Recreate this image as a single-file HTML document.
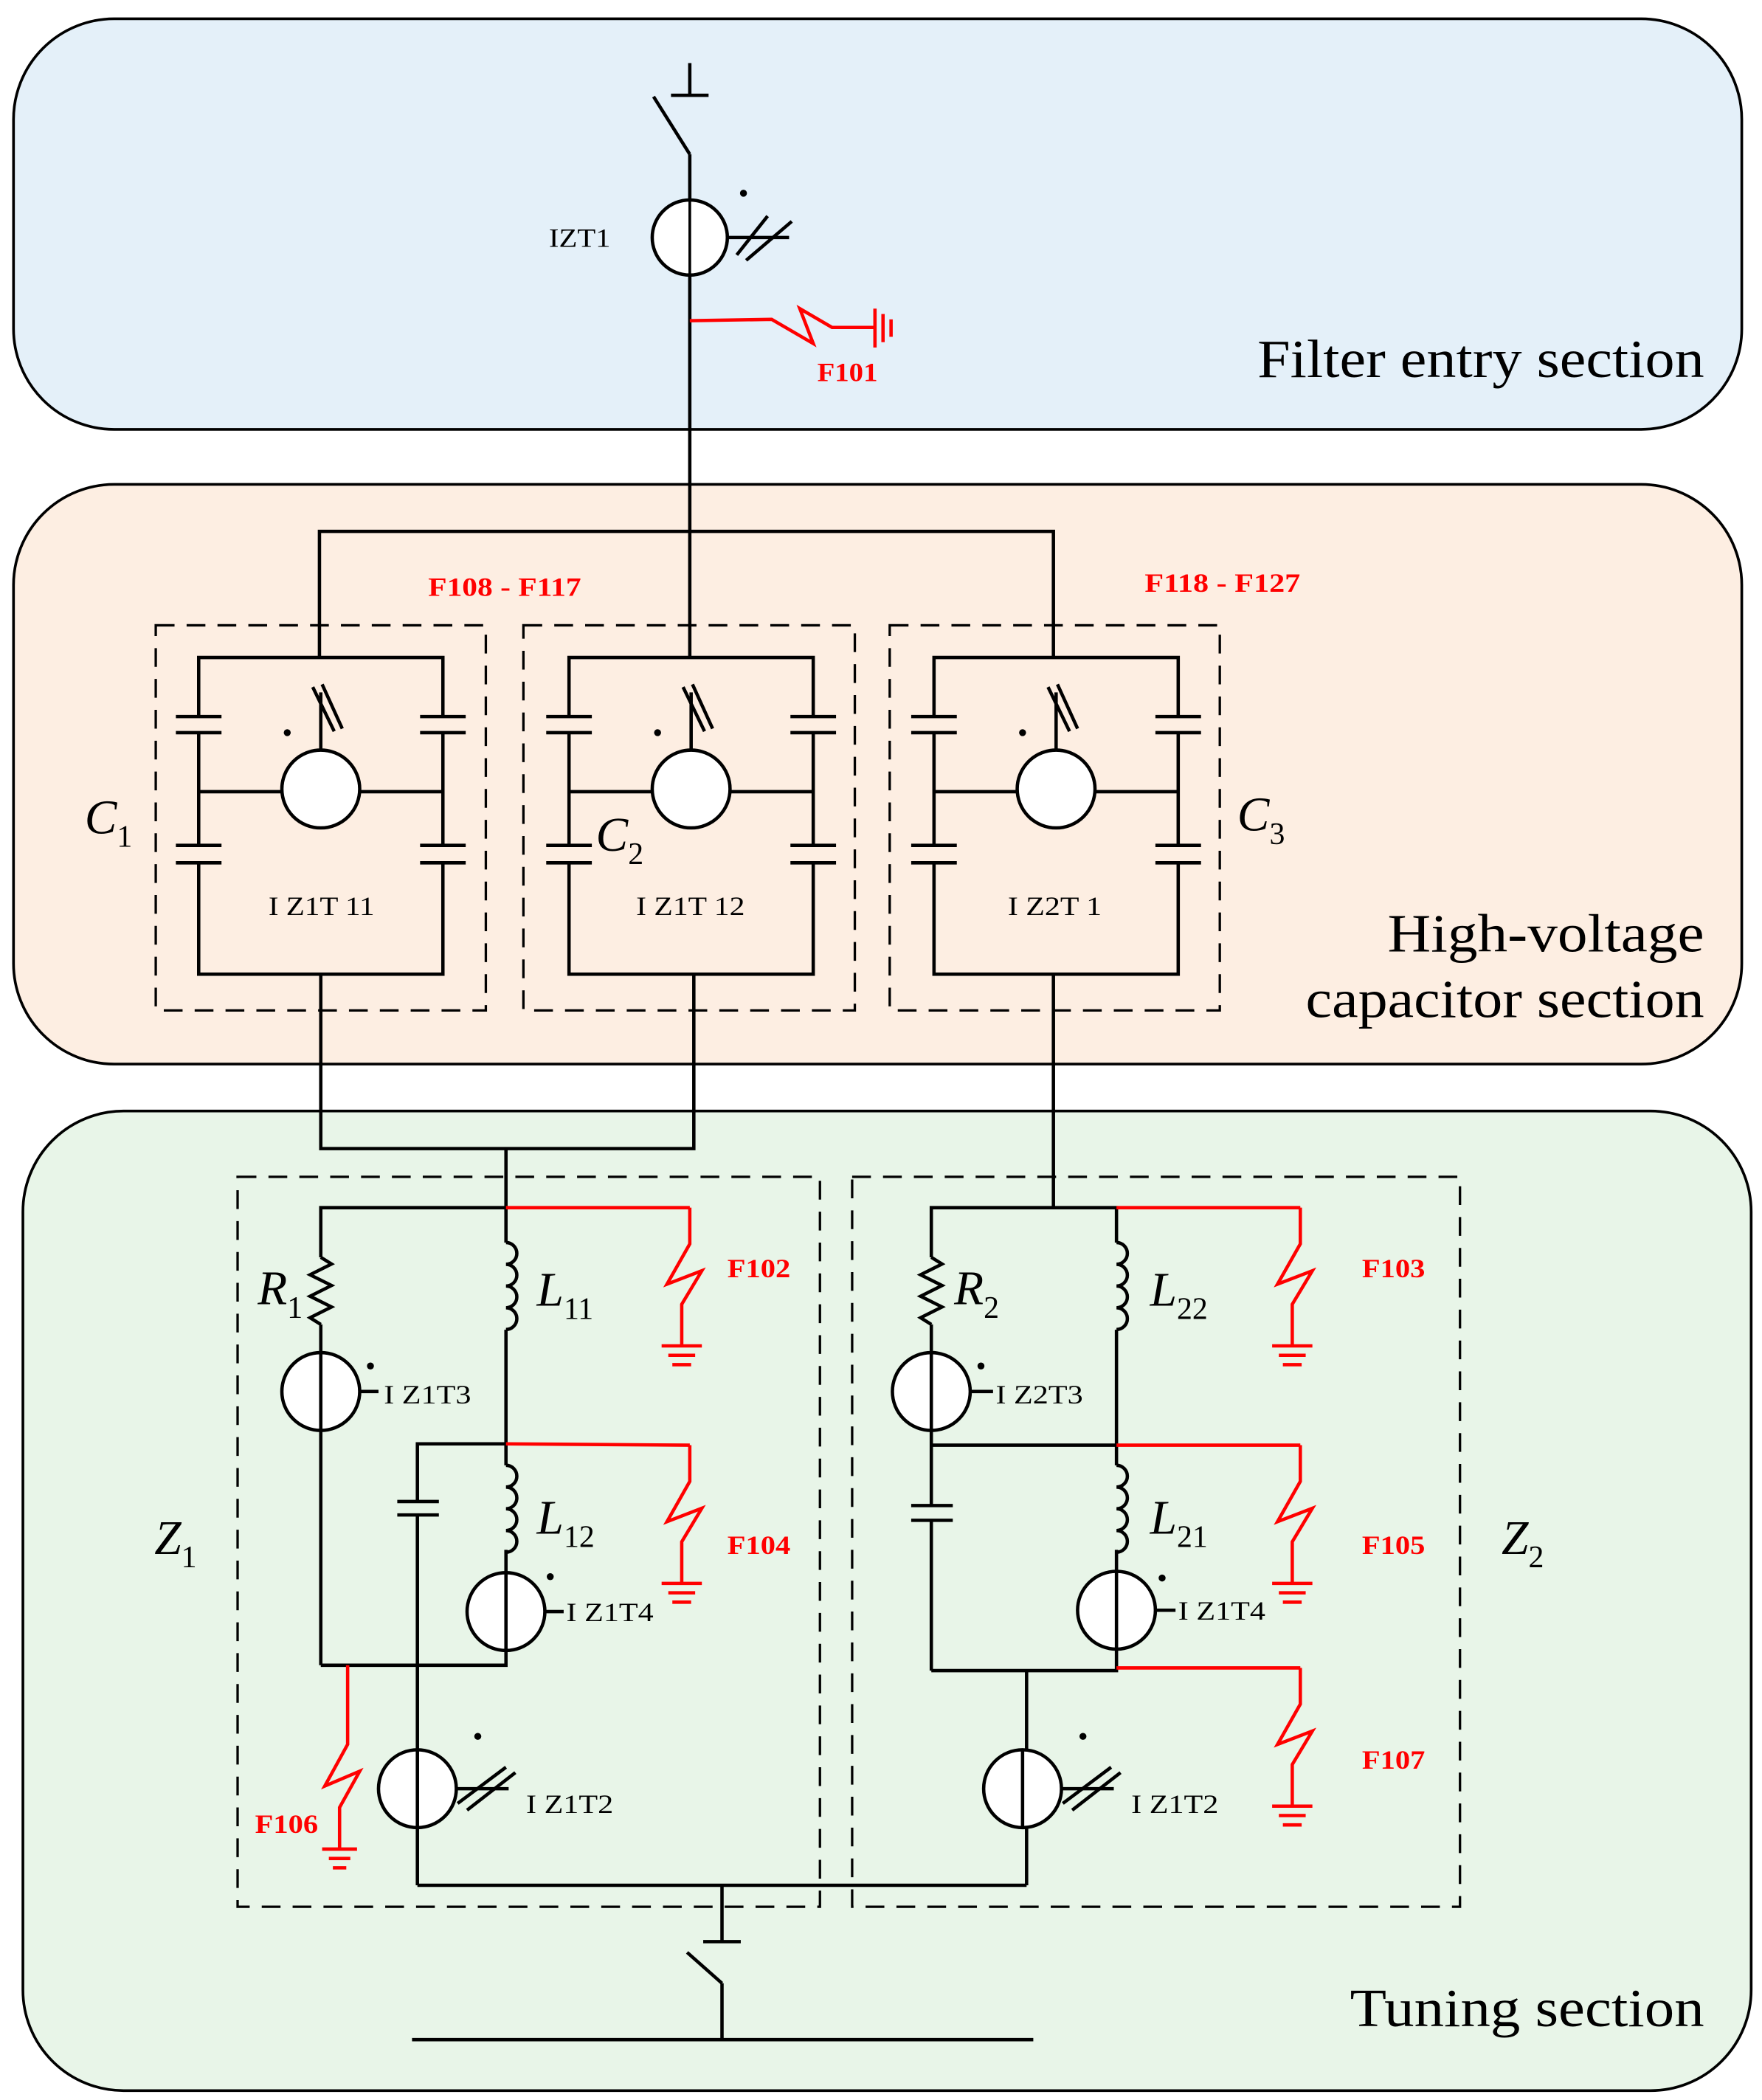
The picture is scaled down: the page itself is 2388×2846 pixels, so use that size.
<!DOCTYPE html>
<html><head><meta charset="utf-8"><style>
html,body{margin:0;padding:0;background:#fff;}
svg{display:block;}
text{font-family:"Liberation Serif",serif;}
</style></head><body>
<svg width="2388" height="2846" viewBox="0 0 1313 1565" xmlns="http://www.w3.org/2000/svg">
<defs>
<path id="coil" d="M0,0 a8.1,8.1 0 0 1 0,16.2 a8.1,8.1 0 0 1 0,16.2 a8.1,8.1 0 0 1 0,16.2 a8.1,8.1 0 0 1 0,16.2" fill="none" stroke="#000" stroke-width="2.5"/>
<path id="res" d="M0,0 l8,5 l-16,8 l16,8 l-16,8 l16,8 l-16,8 l8,5" fill="none" stroke="#000" stroke-width="2.5"/>
<g id="fault" fill="none" stroke="#f00" stroke-width="2.5">
<polyline points="0,0 0,27 -17,57 9,47 -6,72 -6,103"/>
<line x1="-21" y1="103" x2="9" y2="103"/><line x1="-16" y1="110" x2="4" y2="110"/><line x1="-13" y1="117" x2="1" y2="117"/>
</g>
<g id="ctb">
<circle cx="0" cy="0" r="29" fill="#fff" stroke="#000" stroke-width="2.5"/>
<g stroke="#000" stroke-width="2.5"><line x1="29" y1="0" x2="68" y2="0"/><line x1="30" y1="11" x2="66" y2="-16"/><line x1="37" y1="16" x2="73" y2="-12"/></g>
<circle cx="45" cy="-39" r="2.6" fill="#000"/>
</g>
<g id="capbox">
<g fill="none" stroke="#000" stroke-width="2.5">
<polyline points="0,44 0,0 182,0 182,44"/>
<polyline points="0,140 0,56"/><polyline points="182,140 182,56"/>
<polyline points="0,153 0,236 182,236 182,153"/>
<line x1="-17" y1="44" x2="17" y2="44"/><line x1="-17" y1="56" x2="17" y2="56"/>
<line x1="165" y1="44" x2="199" y2="44"/><line x1="165" y1="56" x2="199" y2="56"/>
<line x1="-17" y1="140" x2="17" y2="140"/><line x1="-17" y1="153" x2="17" y2="153"/>
<line x1="165" y1="140" x2="199" y2="140"/><line x1="165" y1="153" x2="199" y2="153"/>
<line x1="0" y1="100" x2="62" y2="100"/><line x1="120" y1="100" x2="182" y2="100"/>
<line x1="91" y1="26" x2="91" y2="70"/>
<line x1="85" y1="22" x2="101" y2="55"/><line x1="92" y1="20" x2="107" y2="53"/>
</g>
<circle cx="91" cy="98" r="29" fill="#fff" stroke="#000" stroke-width="2.5"/>
<circle cx="66" cy="56" r="2.6" fill="#000"/>
</g>
</defs>

<!-- panels -->
<rect x="10" y="14" width="1288" height="306" rx="75" fill="#e4f0f9" stroke="#000" stroke-width="2"/>
<rect x="10" y="361" width="1288" height="432" rx="75" fill="#fdeee2" stroke="#000" stroke-width="2"/>
<rect x="17" y="828" width="1288" height="730" rx="75" fill="#e8f5e8" stroke="#000" stroke-width="2"/>

<g font-size="40" fill="#000" lengthAdjust="spacingAndGlyphs">
<text x="937" y="281" textLength="333" lengthAdjust="spacingAndGlyphs">Filter entry section</text>
<text x="1034" y="709" textLength="236" lengthAdjust="spacingAndGlyphs">High-voltage</text>
<text x="973" y="758" textLength="297" lengthAdjust="spacingAndGlyphs">capacitor section</text>
<text x="1006" y="1510" textLength="264" lengthAdjust="spacingAndGlyphs">Tuning section</text>
</g>

<!-- top section -->
<g stroke="#000" stroke-width="2.5" fill="none">
<line x1="514" y1="47" x2="514" y2="70"/><line x1="500" y1="71" x2="528" y2="71"/>
<line x1="487" y1="72" x2="514" y2="115"/>
<line x1="514" y1="115" x2="514" y2="396"/>
</g>
<circle cx="514" cy="177" r="28" fill="#fff" stroke="#000" stroke-width="2.5"/>
<line x1="514" y1="148" x2="514" y2="206" stroke="#000" stroke-width="2"/>
<g stroke="#000" stroke-width="2.5"><line x1="542" y1="177" x2="588" y2="177"/><line x1="549" y1="190" x2="572" y2="161"/><line x1="556" y1="194" x2="590" y2="165"/></g>
<circle cx="554" cy="144" r="2.6" fill="#000"/>
<text x="409" y="184" font-size="20" textLength="46" lengthAdjust="spacingAndGlyphs">IZT1</text>
<g stroke="#f00" stroke-width="2.5" fill="none">
<polyline points="514,239 575,238 606,256 596,230 620,244 652,244"/>
<line x1="652" y1="230" x2="652" y2="259"/><line x1="658" y1="234" x2="658" y2="255"/><line x1="664" y1="238" x2="664" y2="251"/>
</g>
<text x="609" y="284" font-size="20" font-weight="bold" fill="#f00" textLength="45" lengthAdjust="spacingAndGlyphs">F101</text>

<!-- HV section -->
<g stroke="#000" stroke-width="2.5" fill="none">
<polyline points="238,490 238,396 785,396 785,490"/>
<line x1="514" y1="396" x2="514" y2="490"/>
<polyline points="239,726 239,856 517,856 517,726"/>
<line x1="377" y1="856" x2="377" y2="900"/>
<line x1="785" y1="726" x2="785" y2="900"/>
</g>
<g stroke="#000" stroke-width="1.8" fill="none" stroke-dasharray="14,9">
<rect x="116" y="466" width="246" height="287"/>
<rect x="390" y="466" width="247" height="287"/>
<rect x="663" y="466" width="246" height="287"/>
</g>
<use href="#capbox" x="148" y="490"/>
<use href="#capbox" x="424" y="490"/>
<use href="#capbox" x="696" y="490"/>
<g font-size="20"><text x="200" y="682" textLength="79" lengthAdjust="spacingAndGlyphs">I Z1T 11</text><text x="474" y="682" textLength="81" lengthAdjust="spacingAndGlyphs">I Z1T 12</text><text x="751" y="682" textLength="70" lengthAdjust="spacingAndGlyphs">I Z2T 1</text></g>
<g font-size="20" font-weight="bold" fill="#f00"><text x="319" y="444" textLength="114" lengthAdjust="spacingAndGlyphs">F108 - F117</text><text x="853" y="441" textLength="116" lengthAdjust="spacingAndGlyphs">F118 - F127</text></g>
<g font-size="36" font-style="italic">
<text x="63" y="621">C<tspan font-size="23" font-style="normal" dy="10">1</tspan></text>
<text x="444" y="634">C<tspan font-size="23" font-style="normal" dy="10">2</tspan></text>
<text x="922" y="619">C<tspan font-size="23" font-style="normal" dy="10">3</tspan></text>
</g>

<!-- tuning section boxes -->
<g stroke="#000" stroke-width="1.8" fill="none" stroke-dasharray="14,9">
<rect x="177" y="877" width="434" height="544"/>
<rect x="635" y="877" width="453" height="544"/>
</g>

<!-- Z1 -->
<g stroke="#000" stroke-width="2.5" fill="none">
<polyline points="239,937 239,900 377,900 377,926"/>
<line x1="239" y1="987" x2="239" y2="1241"/>
<polyline points="239,1241 377,1241 377,1155"/>
<line x1="377" y1="991" x2="377" y2="1092"/>
<polyline points="377,1076 311,1076 311,1119"/>
<line x1="296" y1="1119" x2="327" y2="1119"/><line x1="296" y1="1129" x2="327" y2="1129"/>
<line x1="311" y1="1129" x2="311" y2="1405"/>
<polyline points="311,1405 765,1405"/>
<line x1="538" y1="1405" x2="538" y2="1447"/><line x1="524" y1="1447" x2="552" y2="1447"/>
<line x1="512" y1="1455" x2="538" y2="1478"/><line x1="538" y1="1478" x2="538" y2="1520"/>
<line x1="307" y1="1520" x2="770" y2="1520"/>
</g>
<use href="#res" x="239" y="937"/>
<use href="#coil" x="377" y="926"/>
<use href="#coil" x="377" y="1092"/>
<g fill="#fff" stroke="#000" stroke-width="2.5">
<circle cx="239" cy="1037" r="29"/><circle cx="377" cy="1201" r="29"/>
</g>
<g stroke="#000" stroke-width="2.5">
<line x1="239" y1="1008" x2="239" y2="1066"/><line x1="268" y1="1037" x2="282" y2="1037"/>
<line x1="377" y1="1172" x2="377" y2="1230"/><line x1="406" y1="1201" x2="420" y2="1201"/>
</g>
<circle cx="276" cy="1018" r="2.6" fill="#000"/><circle cx="410" cy="1175" r="2.6" fill="#000"/>
<use href="#ctb" x="311" y="1333"/>
<line x1="311" y1="1304" x2="311" y2="1362" stroke="#000" stroke-width="2.5"/>
<g font-size="20"><text x="286" y="1046" textLength="65" lengthAdjust="spacingAndGlyphs">I Z1T3</text><text x="422" y="1208" textLength="65" lengthAdjust="spacingAndGlyphs">I Z1T4</text><text x="392" y="1351" textLength="65" lengthAdjust="spacingAndGlyphs">I Z1T2</text></g>
<g stroke="#f00" stroke-width="2.5" fill="none">
<polyline points="377,900 514,900"/><polyline points="377,1076 514,1077"/>
<polyline points="259,1241 259,1300 242,1331 268,1320 253,1347 253,1378"/>
<line x1="240" y1="1378" x2="266" y2="1378"/><line x1="245" y1="1385" x2="261" y2="1385"/><line x1="248" y1="1392" x2="258" y2="1392"/>
</g>
<use href="#fault" x="514" y="900"/>
<use href="#fault" x="514" y="1077"/>
<g font-size="20" font-weight="bold" fill="#f00" lengthAdjust="spacingAndGlyphs">
<text x="542" y="952" textLength="47" lengthAdjust="spacingAndGlyphs">F102</text><text x="542" y="1158" textLength="47" lengthAdjust="spacingAndGlyphs">F104</text><text x="190" y="1366" textLength="47" lengthAdjust="spacingAndGlyphs">F106</text>
<text x="1015" y="952" textLength="47" lengthAdjust="spacingAndGlyphs">F103</text><text x="1015" y="1158" textLength="47" lengthAdjust="spacingAndGlyphs">F105</text><text x="1015" y="1318" textLength="47" lengthAdjust="spacingAndGlyphs">F107</text></g>

<!-- Z2 -->
<g stroke="#000" stroke-width="2.5" fill="none">
<polyline points="694,937 694,900 832,900 832,926"/>
<line x1="694" y1="987" x2="694" y2="1122"/>
<line x1="679" y1="1122" x2="710" y2="1122"/><line x1="679" y1="1133" x2="710" y2="1133"/>
<line x1="694" y1="1133" x2="694" y2="1245"/>
<polyline points="694,1245 832,1245 832,1155"/>
<line x1="832" y1="991" x2="832" y2="1092"/>
<line x1="694" y1="1077" x2="832" y2="1077"/>
<line x1="765" y1="1245" x2="765" y2="1405"/>
</g>
<use href="#res" x="694" y="937"/>
<use href="#coil" x="832" y="926"/>
<use href="#coil" x="832" y="1092"/>
<g fill="#fff" stroke="#000" stroke-width="2.5">
<circle cx="694" cy="1037" r="29"/><circle cx="832" cy="1200" r="29"/>
</g>
<g stroke="#000" stroke-width="2.5">
<line x1="694" y1="1008" x2="694" y2="1066"/><line x1="723" y1="1037" x2="740" y2="1037"/>
<line x1="832" y1="1171" x2="832" y2="1229"/><line x1="861" y1="1200" x2="876" y2="1200"/>
</g>
<circle cx="731" cy="1018" r="2.6" fill="#000"/><circle cx="866" cy="1176" r="2.6" fill="#000"/>
<use href="#ctb" x="762" y="1333"/>
<line x1="762" y1="1304" x2="762" y2="1362" stroke="#000" stroke-width="2.5"/>
<g font-size="20"><text x="742" y="1046" textLength="65" lengthAdjust="spacingAndGlyphs">I Z2T3</text><text x="878" y="1207" textLength="65" lengthAdjust="spacingAndGlyphs">I Z1T4</text><text x="843" y="1351" textLength="65" lengthAdjust="spacingAndGlyphs">I Z1T2</text></g>
<g stroke="#f00" stroke-width="2.5" fill="none">
<polyline points="832,900 969,900"/><polyline points="832,1077 969,1077"/><polyline points="832,1243 969,1243"/>
</g>
<use href="#fault" x="969" y="900"/>
<use href="#fault" x="969" y="1077"/>
<use href="#fault" x="969" y="1243"/>

<g font-size="36" font-style="italic">
<text x="192" y="972">R<tspan font-size="23" font-style="normal" dy="10">1</tspan></text>
<text x="400" y="973">L<tspan font-size="23" font-style="normal" dy="10">11</tspan></text>
<text x="400" y="1143">L<tspan font-size="23" font-style="normal" dy="10">12</tspan></text>
<text x="711" y="972">R<tspan font-size="23" font-style="normal" dy="10">2</tspan></text>
<text x="857" y="973">L<tspan font-size="23" font-style="normal" dy="10">22</tspan></text>
<text x="857" y="1143">L<tspan font-size="23" font-style="normal" dy="10">21</tspan></text>
<text x="115" y="1158">Z<tspan font-size="23" font-style="normal" dy="10">1</tspan></text>
<text x="1119" y="1158">Z<tspan font-size="23" font-style="normal" dy="10">2</tspan></text>
</g>
</svg>
</body></html>
